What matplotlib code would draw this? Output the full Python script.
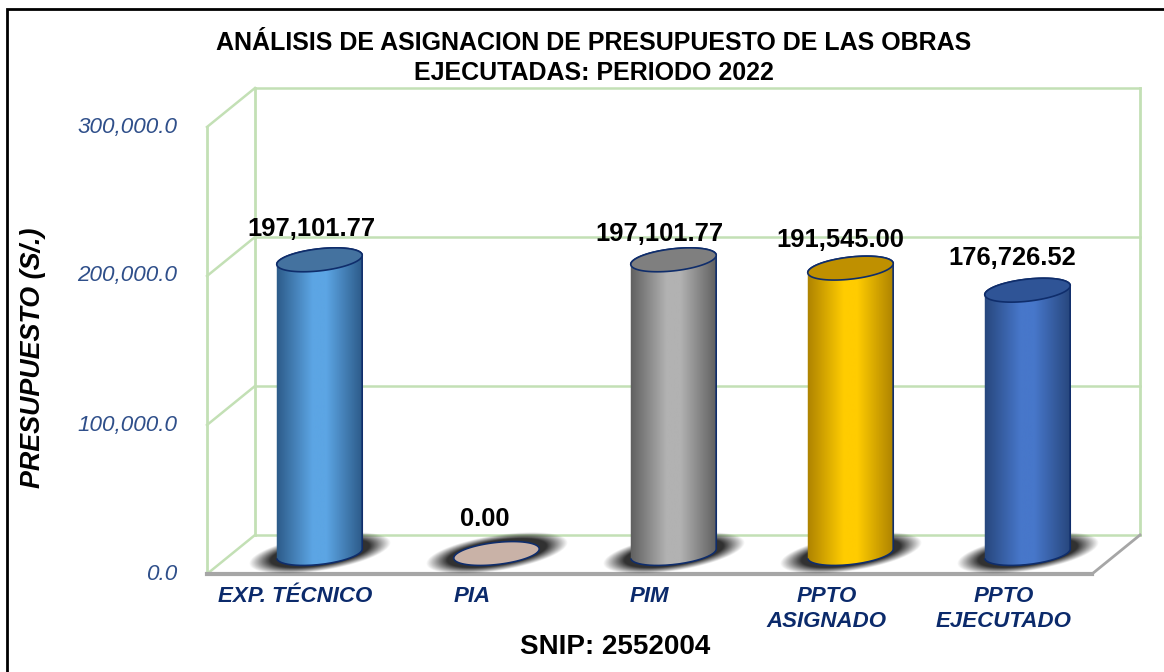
# Imports
import numpy as np
import matplotlib
matplotlib.use("Agg")
import matplotlib.pyplot as plt
from matplotlib.colors import LinearSegmentedColormap
from matplotlib.patches import PathPatch, Rectangle
from matplotlib.path import Path
from matplotlib.transforms import Affine2D

plt.rcParams['font.family'] = ['Liberation Sans', 'DejaVu Sans']

# chart data
categories = ['EXP. TÉCNICO', 'PIA', 'PIM', 'PPTO\nASIGNADO', 'PPTO\nEJECUTADO']
values = [197101.77, 0.00, 197101.77, 191545.00, 176726.52]
value_labels = ['197,101.77', '0.00', '197,101.77', '191,545.00', '176,726.52']
y_ticks = [0, 100000, 200000, 300000]
y_tick_labels = ['0.0', '100,000.0', '200,000.0', '300,000.0']

# edge, centre, top colours of each cylinder
edge_colors = ['#2c5a88', '#a89080', '#5f5f5f', '#ad8200', '#27467c']
centre_colors = ['#5ca5e4', '#cdb9ae', '#b2b2b2', '#ffcc00', '#4777ca']
top_colors = ['#44729f', '#c9b2a7', '#7f7f7f', '#bf9000', '#2f5496']

W, H = 1164, 672
GREEN = '#c3e0b5'
NAVY = '#0f2d6b'

fig = plt.figure(figsize=(W / 100, H / 100), dpi=100, facecolor='white')
ax = fig.add_axes([207 / W, 1 - 574 / H, 885 / W, 447 / H])
ax.set_xlim(-0.5, 4.5)
ax.set_ylim(0, 300000)
ax.axis('off')

# pixels to data units
px_x = 5 / 885
px_y = 300000 / 447

# oblique depth of the box, in pixels
back = ax.transData + Affine2D().translate(48, 39)
mid = ax.transData + Affine2D().translate(24, 20.5)

# outer frame
fig.add_artist(Rectangle((6.5 / W, -0.1), (W + 20) / W, 1.1 - 9.5 / H, transform=fig.transFigure,
                         fill=False, ec='black', lw=2))

# side wall and back wall grid
for v in y_ticks:
    ax.plot([-0.5, 4.5], [v, v], color=GREEN, lw=1.8, transform=back, clip_on=False, zorder=1)
    ax.plot([-0.5, -0.5 + 48 * px_x], [v, v + 39 * px_y], color=GREEN, lw=1.8, clip_on=False, zorder=1)
ax.plot([-0.5, -0.5], [0, 300000], color=GREEN, lw=2, clip_on=False, zorder=1)
ax.plot([-0.5, -0.5], [0, 300000], color=GREEN, lw=2, transform=back, clip_on=False, zorder=1)
ax.plot([4.5, 4.5], [0, 300000], color=GREEN, lw=2, transform=back, clip_on=False, zorder=1)

# floor
ax.plot([-0.5, 4.5], [0, 0], color='#a6a6a6', lw=3, clip_on=False, zorder=2)
ax.plot([4.5, 4.5 + 48 * px_x], [0, 39 * px_y], color='#a6a6a6', lw=2, clip_on=False, zorder=2)

tilt = np.radians(6.5)
a = 43 * px_x

# label nudges in pixels, right and up from the top of each cylinder
label_dx = [-8, -12, -14, -10, -15]
label_dy = [31, 35, 26, 28, 32]


def ellipse_points(cx, cy, n=80, start=0, end=2 * np.pi):
    t = np.linspace(start, end, n)
    ex, ey = np.cos(t) * 43, np.sin(t) * 11
    x = ex * np.cos(tilt) - ey * np.sin(tilt)
    y = ex * np.sin(tilt) + ey * np.cos(tilt)
    return cx + x * px_x, cy + y * px_y


def draw_shadow(cx):
    # soft dark halo on the floor, wider than the base
    gx, gy = np.meshgrid(np.linspace(-85, 85, 220), np.linspace(-30, 30, 100))
    sh = np.radians(9)
    ux = gx * np.cos(sh) + gy * np.sin(sh)
    uy = -gx * np.sin(sh) + gy * np.cos(sh)
    d = np.sqrt((ux / 72) ** 2 + (uy / 18) ** 2)
    rgba = np.zeros(gx.shape + (4,))
    rgba[..., :3] = 0.15
    rgba[..., 3] = np.clip((1 - d) / 0.3, 0, 1) * 0.95
    ax.imshow(rgba, origin='lower', aspect='auto', transform=mid, zorder=3, clip_on=False,
              extent=(cx - 85 * px_x, cx + 85 * px_x, -30 * px_y, 30 * px_y))


for i, v in enumerate(values):
    draw_shadow(i)
    cmap = LinearSegmentedColormap.from_list('c' + str(i), [(0, edge_colors[i]), (0.42, centre_colors[i]),
                                                            (0.58, centre_colors[i]), (1, edge_colors[i])])
    grad = np.linspace(0, 1, 200).reshape(1, -1)
    if v > 0:
        # body outline: lower half of the base, then lower half of the top ellipse closed over
        bx, by = ellipse_points(i, 0, start=np.pi, end=2 * np.pi)
        tx, ty = ellipse_points(i, v, start=0, end=np.pi)
        px = np.r_[bx, tx]
        py = np.r_[by, ty]
        body = Path(np.c_[px, py], closed=False)
        im = ax.imshow(grad, cmap=cmap, aspect='auto', transform=mid, zorder=4, clip_on=True,
                       extent=(i - a * 1.01, i + a * 1.01, -20 * px_y, v + 20 * px_y))
        patch = PathPatch(body, fc='none', ec=NAVY, lw=1.2, transform=mid, zorder=5, clip_on=False)
        ax.add_patch(patch)
        im.set_clip_path(patch)
    ex, ey = ellipse_points(i, v)
    ax.fill(ex, ey, fc=top_colors[i], ec=NAVY, lw=1.2, transform=mid, zorder=6, clip_on=False)
    ax.text(i + label_dx[i] * px_x, v + label_dy[i] * px_y, value_labels[i], transform=mid, ha='center',
            va='center', fontsize=18.4, fontweight='bold', color='black', zorder=7, clip_on=False)

ax.set_xlim(-0.5, 4.5)
ax.set_ylim(0, 300000)

# tick labels
for v, lab in zip(y_ticks, y_tick_labels):
    ax.text(-0.5 - 30 * px_x, v, lab, ha='right', va='center', fontsize=16.2, style='italic',
            color='#2f4f8a', clip_on=False)
for i, cat in enumerate(categories):
    ax.text(i, -12 * px_y, cat, ha='center', va='top', fontsize=16, style='italic', fontweight='bold',
            color='#0b2a6b', clip_on=False, linespacing=1.22)

fig.text(594 / W, 1 - 43.5 / H, 'ANÁLISIS DE ASIGNACION DE PRESUPUESTO DE LAS OBRAS', ha='center', va='center',
         fontsize=18, fontweight='bold')
fig.text(594 / W, 1 - 73.5 / H, 'EJECUTADAS: PERIODO 2022', ha='center', va='center',
         fontsize=18, fontweight='bold')
fig.text(33 / W, 1 - 358 / H, 'PRESUPUESTO (S/.)', rotation=90, ha='center', va='center',
         fontsize=19.4, fontweight='bold', style='italic')
fig.text(615 / W, 1 - 647 / H, 'SNIP: 2552004', ha='center', va='center', fontsize=20, fontweight='bold')

fig.savefig('out.png', dpi=100)
